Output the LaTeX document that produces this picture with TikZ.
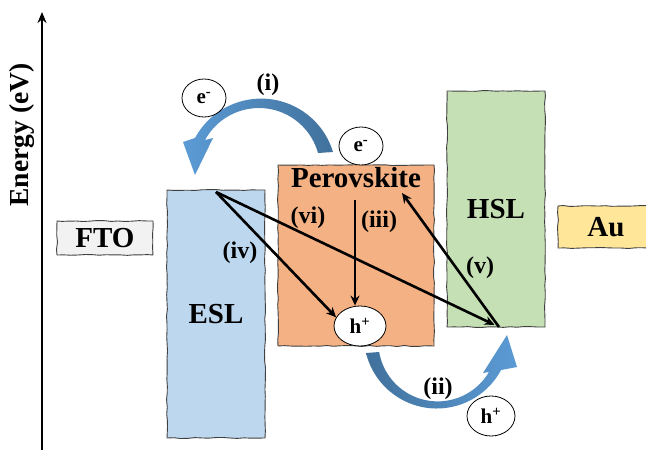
\documentclass[tikz,border=0pt]{standalone}
\usepackage{fontspec}
\setmainfont{Liberation Serif}
\usepackage{xcolor}
\usetikzlibrary{arrows.meta,positioning,shapes.geometric,decorations.pathmorphing}

\definecolor{ftogray}{HTML}{F2F2F2}
\definecolor{eslblue}{HTML}{BDD7EE}
\definecolor{pvkorange}{HTML}{F4B183}
\definecolor{hslgreen}{HTML}{C5E0B4}
\definecolor{augold}{HTML}{FFE699}
\definecolor{flowdark}{HTML}{41719C}
\definecolor{flowlight}{HTML}{5B9BD5}

\begin{document}
\pgfmathsetseed{7}
\begin{tikzpicture}[
    x=1pt, y=-1pt,
    font=\bfseries,
    layer/.style={
        rectangle,
        draw=black!75,
        line width=0.9pt,
        decorate,
        decoration={random steps, segment length=7pt, amplitude=0.5pt},
        inner sep=0pt,
        font=\fontsize{29}{32}\selectfont\bfseries
    },
    carrier/.style={
        ellipse,
        draw=black,
        line width=0.8pt,
        fill=white,
        inner sep=0pt,
        minimum width=44pt,
        minimum height=38pt,
        font=\fontsize{21}{24}\selectfont\bfseries
    },
    tag/.style={font=\fontsize{24}{28}\selectfont\bfseries, inner sep=1pt},
    transfer/.style={-{Stealth[length=10pt, width=9pt]}, line width=2.6pt},
    axis/.style={-{Stealth[length=11pt, width=9pt]}, line width=2.6pt}
]

\useasboundingbox (0,0) rectangle (646,450);

\node[layer, fill=ftogray, minimum width=96pt, minimum height=34pt] (fto) at (105,238) {FTO};
\node[layer, fill=eslblue, minimum width=98pt, minimum height=248pt] (esl) at (216,314) {ESL};
\node[layer, fill=pvkorange, minimum width=156pt, minimum height=181pt] (pvk) at (356,255.5) {};
\node[layer, fill=hslgreen, minimum width=98pt, minimum height=236pt] (hsl) at (496,209) {HSL};
\node[layer, fill=augold, minimum width=96pt, minimum height=42pt] (au) at (606,227) {Au};
\node[font=\fontsize{29}{32}\selectfont\bfseries, inner sep=0pt, below=3pt of pvk.north] (pvklabel) {Perovskite};

\coordinate (axisFoot) at (42,450);
\coordinate (axisHead) at (42,12);
\draw[axis] (axisFoot) -- (axisHead);
\node[rotate=90, font=\fontsize{27.5}{30}\selectfont\bfseries] (energy) at (22,135) {Energy (eV)};

\coordinate (iOut) at (261.1,173.7);
\coordinate (iIn) at (258.9,169.3);
\shade[left color=flowlight, right color=flowdark]
    ([shift={(-16.8:75.1)}]iOut) arc[start angle=-16.8, end angle=-151.6, radius=75.1]
    -- (183,142) -- (195,175) -- (213,138)
    -- ([shift={(-151.5:61.3)}]iIn) arc[start angle=-151.5, end angle=-15.4, radius=61.3] -- cycle;

\coordinate (iiOut) at (436.8,335.6);
\coordinate (iiIn) at (437.7,342.0);
\shade[left color=flowdark, right color=flowlight]
    ([shift={(166.2:72.9)}]iiOut) arc[start angle=166.2, end angle=28.2, radius=72.9]
    -- (517,367) -- (507,335) -- (483,373)
    -- ([shift={(30.3:59.4)}]iiIn) arc[start angle=30.3, end angle=170.3, radius=59.4] -- cycle;

\node[carrier] (eTop) at (204,98) {e\textsuperscript{-}};
\node[carrier] (ePvk) at (361,146) {e\textsuperscript{-}};
\node[carrier, minimum width=52pt, minimum height=40pt] (hPvk) at (360,326) {h\textsuperscript{+}};
\node[carrier, minimum width=48pt, minimum height=40pt] (hBot) at (491,416) {h\textsuperscript{+}};

\coordinate (eslTop) at (216,192);
\coordinate (hslFoot) at (499,327);
\coordinate (pvkHead) at (402,193);
\coordinate (pvkMid) at (355,200);

\draw[transfer] (eslTop) -- (hPvk.160);
\draw[transfer, shorten >=5pt] (eslTop) -- (hslFoot);
\draw[transfer] (hslFoot) -- (pvkHead);
\draw[transfer] (pvkMid) -- (pvkMid |- hPvk.north);

\node[tag] (ti) at (268,85) {(i)};
\node[tag] (tii) at (438,389) {(ii)};
\node[tag] (tiii) at (379,222) {(iii)};
\node[tag] (tiv) at (240,253) {(iv)};
\node[tag] (tv) at (480,268) {(v)};
\node[tag] (tvi) at (308,218) {(vi)};

\end{tikzpicture}
\end{document}
